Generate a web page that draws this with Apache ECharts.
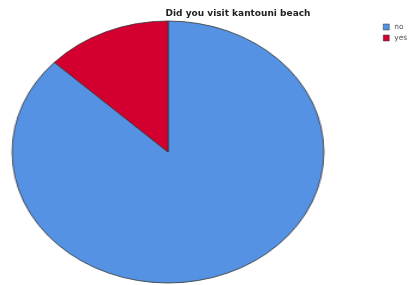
<!DOCTYPE html>
<html>
<head>
<meta charset="utf-8">
<script src="https://cdn.jsdelivr.net/npm/echarts@6/dist/echarts.min.js"></script>
<style>
  html, body { margin: 0; padding: 0; background: #fff; }
  #wrap { position: relative; width: 408px; height: 285px; overflow: hidden; }
  #pie, #text { position: absolute; left: 0; top: 0; width: 408px; height: 285px; }
  /* SPSS draws the pie as an ellipse: stretch the pie layer horizontally */
  #pie { transform-origin: 168px 152px; transform: scaleX(1.19); }
  #text { pointer-events: none; }
</style>
</head>
<body>
<div id="wrap">
  <div id="pie"></div>
  <div id="text"></div>
</div>
<script>
const categories = ['no', 'yes']
const values = [87, 13]
const colors = ['#5592e3', '#d3002f']
const titleText = 'Did you visit kantouni beach'

const pieData = categories.map((name, i) => ({
  name,
  value: values[i],
  itemStyle: { color: colors[i] }
}))

const pieChart = echarts.init(document.getElementById('pie'), null, { renderer: 'canvas' })
pieChart.setOption({
  animation: false,
  series: [
    {
      type: 'pie',
      center: [168, 152],
      radius: [0, 131],
      startAngle: 90,
      clockwise: true,
      label: { show: false },
      labelLine: { show: false },
      itemStyle: { borderColor: '#333', borderWidth: 0.8 },
      emphasis: { disabled: true },
      data: pieData
    }
  ]
})

const textChart = echarts.init(document.getElementById('text'), null, { renderer: 'canvas' })
textChart.setOption({
  animation: false,
  title: {
    text: titleText,
    left: 238,
    top: 9,
    padding: 0,
    textAlign: 'center',
    textStyle: {
      fontFamily: 'DejaVu Sans',
      fontSize: 9,
      fontWeight: 'bold',
      color: '#222'
    }
  },
  legend: {
    orient: 'vertical',
    left: 383,
    top: 23,
    padding: 0,
    itemWidth: 6,
    itemHeight: 6,
    itemGap: 3,
    icon: 'rect',
    selectedMode: false,
    itemStyle: { borderColor: '#333', borderWidth: 0.5 },
    textStyle: { fontFamily: 'DejaVu Sans', fontSize: 7.5, lineHeight: 6, color: '#555' },
    data: categories
  },
  series: [
    {
      type: 'pie',
      silent: true,
      center: [-100, -100],
      radius: [0, 1],
      label: { show: false },
      labelLine: { show: false },
      itemStyle: { borderWidth: 0 },
      data: pieData
    }
  ]
})
</script>
</body>
</html>
